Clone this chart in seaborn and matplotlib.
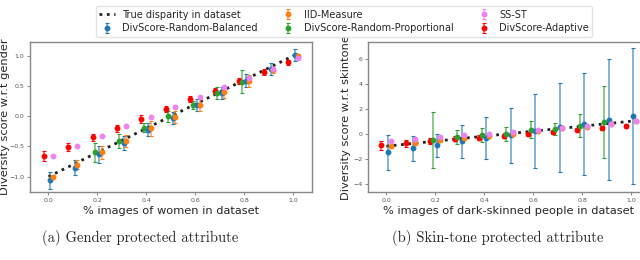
import numpy as np
import seaborn as sns
import matplotlib
matplotlib.use("Agg")
import matplotlib.pyplot as plt

# disparity levels in the dataset
x = [0.0, 0.1, 0.2, 0.3, 0.4, 0.5, 0.6, 0.7, 0.8, 0.9, 1.0]
true_disp = [-1.0, -0.8, -0.6, -0.4, -0.2, 0.0, 0.2, 0.4, 0.6, 0.8, 1.0]

# (a) gender
g_bal = [-1.06, -0.85, -0.63, -0.44, -0.22, -0.03, 0.19, 0.385, 0.59, 0.786, 1.016]
g_bal_err = [0.14, 0.13, 0.14, 0.12, 0.11, 0.10, 0.10, 0.10, 0.11, 0.10, 0.10]
g_iid = [-1.0, -0.8, -0.6, -0.41, -0.2, -0.01, 0.19, 0.40, 0.59, 0.77, 1.0]
g_iid_err = [0.02, 0.08, 0.10, 0.10, 0.12, 0.10, 0.10, 0.10, 0.10, 0.05, 0.03]
g_prop_x = [0.2, 0.3, 0.4, 0.5, 0.6, 0.7, 0.8]
g_prop = [-0.6, -0.41, -0.19, 0.0, 0.19, 0.385, 0.57]
g_prop_err = [0.15, 0.11, 0.075, 0.09, 0.07, 0.10, 0.19]
g_ss = [-0.66, -0.495, -0.33, -0.165, -0.016, 0.154, 0.319, 0.478, 0.632, 0.786, 0.96]
g_ada = [-0.66, -0.505, -0.346, -0.203, -0.044, 0.121, 0.286, 0.423, 0.588, 0.731, 0.89]
g_ada_err = [0.08, 0.07, 0.06, 0.06, 0.06, 0.05, 0.05, 0.05, 0.05, 0.05, 0.04]

# (b) skin-tone
s_bal = [-1.48, -1.16, -0.94, -0.6, -0.33, -0.12, 0.25, 0.52, 0.81, 1.13, 1.4]
s_bal_err = [1.4, 1.0, 0.92, 1.33, 1.66, 2.2, 2.96, 3.57, 4.08, 4.83, 5.45]
s_iid = [-1.0, -0.76, -0.54, -0.33, -0.2, 0.0, 0.2, 0.42, 0.55, 0.78, 0.98]
s_iid_err = [0.12, 0.12, 0.12, 0.1, 0.1, 0.1, 0.1, 0.1, 0.1, 0.1, 0.1]
s_prop_x = [0.2, 0.3, 0.4, 0.5, 0.6, 0.7, 0.8, 0.9]
s_prop = [-0.52, -0.28, -0.14, -0.02, 0.33, 0.39, 0.65, 0.92]
s_prop_err = [2.26, 0.55, 0.56, 0.53, 0.66, 0.5, 0.93, 2.88]
s_ss = [-0.6, -0.41, -0.25, -0.14, -0.02, 0.15, 0.33, 0.47, 0.6, 0.81, 1.05]
s_ada = [-0.94, -0.78, -0.6, -0.41, -0.33, -0.2, -0.02, 0.12, 0.33, 0.47, 0.6]
s_ada_err = [0.33, 0.25, 0.25, 0.2, 0.2, 0.15, 0.15, 0.15, 0.15, 0.15, 0.15]

sns.set_theme(style="white")
plt.rcParams["font.family"] = ["DejaVu Sans"]

fig = plt.figure(figsize=(6.4, 2.6), dpi=100)
ax1 = fig.add_axes([0.047, 0.26, 0.44, 0.579])
ax2 = fig.add_axes([0.575, 0.26, 0.44, 0.579])


def draw(ax, bal, bal_err, iid, iid_err, px, prop, prop_err, ss, ada, ada_err):
    xs = np.array(x)
    line, = ax.plot(xs, true_disp, color="#222222", linestyle=":", lw=2,
                    zorder=1, label="True disparity in dataset")
    kw = dict(fmt="o", ms=3.2, capsize=1.6, elinewidth=1.1, capthick=0.8)
    h_ada = ax.errorbar(xs - 0.02, ada, yerr=ada_err, color="red",
                        label="DivScore-Adaptive", zorder=3, **kw)
    h_prop = ax.errorbar(np.array(px) - 0.01, prop, yerr=prop_err, color="tab:green",
                         label="DivScore-Random-Proportional", zorder=3, **kw)
    h_bal = ax.errorbar(xs + 0.008, bal, yerr=bal_err, color="tab:blue",
                        label="DivScore-Random-Balanced", zorder=4, **kw)
    h_iid = ax.errorbar(xs + 0.018, iid, yerr=iid_err, color="tab:orange",
                        label="IID-Measure", zorder=4, **kw)
    h_ss = ax.errorbar(xs + 0.018, ss, yerr=[0.01] * len(ss), color="violet",
                       label="SS-ST", zorder=4, **kw)
    for h in (h_ada, h_prop, h_bal, h_iid, h_ss):
        for b in h[2]:
            b.set_alpha(0.7)
    ax.set_xlim(-0.075, 1.075)
    ax.set_xticks([0.0, 0.2, 0.4, 0.6, 0.8, 1.0])
    ax.tick_params(axis="both", length=2, width=0.5, labelsize=4.5, pad=2,
                   colors="#555555", left=True, bottom=True)
    for s in ax.spines.values():
        s.set_color("#888888")
        s.set_linewidth(1.0)
    return [line, h_bal, h_iid, h_prop, h_ss, h_ada]


handles = draw(ax1, g_bal, g_bal_err, g_iid, g_iid_err, g_prop_x, g_prop, g_prop_err,
               g_ss, g_ada, g_ada_err)
ax1.set_ylim(-1.26, 1.23)
ax1.set_yticks([-1.0, -0.5, 0.0, 0.5, 1.0])
ax1.set_xticklabels(["0.0", "0.2", "0.4", "0.6", "0.8", "1.0"])
ax1.set_yticklabels(["\u22121.0", "\u22120.5", "0.0", "0.5", "1.0"])
ax1.set_xlabel("% images of women in dataset", fontsize=8.2, labelpad=2)
ax1.set_ylabel("Diversity score w.r.t gender", fontsize=8.2)
ax1.yaxis.set_label_coords(-0.072, 0.5)

draw(ax2, s_bal, s_bal_err, s_iid, s_iid_err, s_prop_x, s_prop, s_prop_err,
     s_ss, s_ada, s_ada_err)
ax2.set_ylim(-4.7, 7.35)
ax2.set_yticks([-4, -2, 0, 2, 4, 6])
ax2.set_xticklabels(["0.0", "0.2", "0.4", "0.6", "0.8", "1.0"])
ax2.set_xlabel("% images of dark-skinned people in dataset", fontsize=8.2, labelpad=2)
ax2.set_ylabel("Diversity score w.r.t skintone", fontsize=8.2)
ax2.yaxis.set_label_coords(-0.062, 0.5)

fig.legend(handles=handles, loc="upper center", bbox_to_anchor=(0.5375, 0.995),
           ncol=3, fontsize=7.0, frameon=True, edgecolor="#dddddd",
           handlelength=1.6, handletextpad=0.8, columnspacing=2.3,
           labelspacing=0.4, borderpad=0.35)

fig.text(0.219, 0.07, "(a) Gender protected attribute", ha="center",
         fontsize=10.5, family="cmr10")
fig.text(0.778, 0.07, "(b) Skin-tone protected attribute", ha="center",
         fontsize=10.5, family="cmr10")

fig.savefig("out.png", dpi=100)
